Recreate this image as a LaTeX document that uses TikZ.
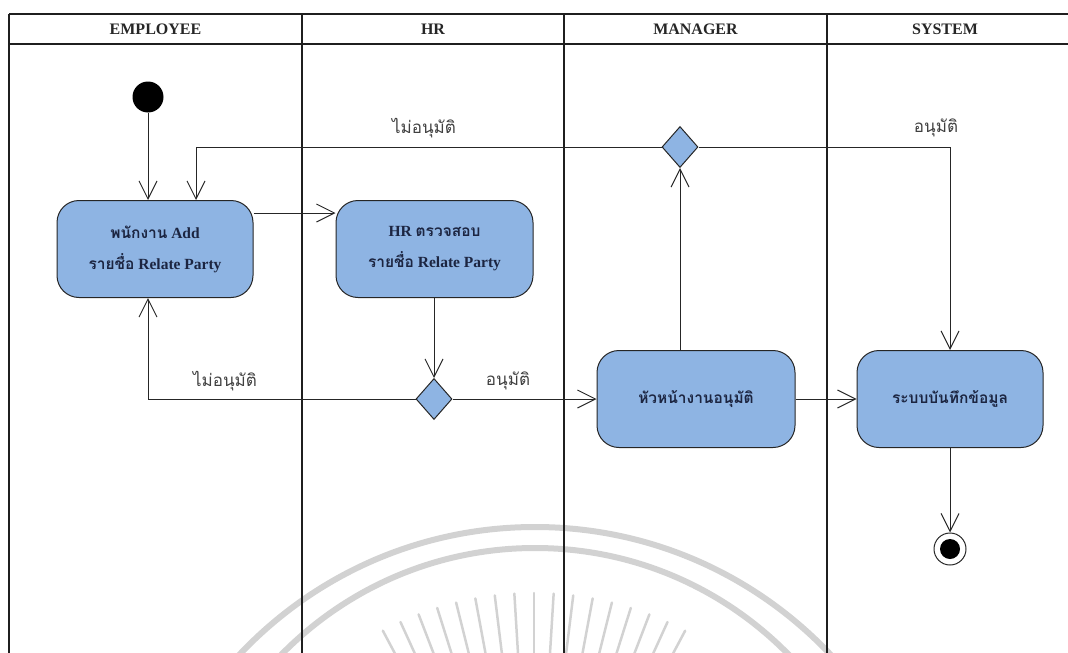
\documentclass[tikz,border=0pt]{standalone}
\usepackage{fontspec}
\setmainfont{Liberation Serif}
\newfontfamily\thai[Script=Thai]{Loma}
\usetikzlibrary{arrows.meta,shapes.geometric}

\definecolor{actfill}{HTML}{8EB4E3}
\definecolor{acttext}{HTML}{1C2541}
\definecolor{sealgray}{HTML}{D2D2D2}

\begin{document}
\begin{tikzpicture}[x=1pt,y=-1pt,
  lane/.style={line width=2pt, draw=black!88},
  lanehead/.style={font=\bfseries\fontsize{16}{18}\selectfont, text=black!85},
  act/.style={draw=black!85, line width=1pt, fill=actfill, rounded corners=22pt,
    minimum height=97pt, align=center, inner sep=0pt, text=acttext,
    font=\bfseries\fontsize{15.5}{31}\selectfont},
  dec/.style={diamond, draw=black!85, line width=1pt, fill=actfill, inner sep=0pt,
    minimum width=36pt, minimum height=41pt},
  startnode/.style={circle, fill=black, inner sep=0pt, minimum size=31pt},
  endring/.style={circle, draw=black!85, line width=1pt, inner sep=0pt, minimum size=32pt},
  flow/.style={draw=black!85, line width=1pt, -{Straight Barb[length=18pt,width=18pt]}},
  guard/.style={font=\thai\fontsize{17}{20}\selectfont, text=black!75},
  seal/.style={draw=sealgray}
]
\useasboundingbox (0,0) rectangle (1068,653);

% faint seal printed behind the chart
\begin{scope}
  \clip (0,0) rectangle (1068,653);
  \draw[seal, line width=6pt] (535,933) circle[radius=406pt];
  \draw[seal, line width=6pt] (535,903) circle[radius=355pt];
  \foreach \a in {62,65.5,...,118.5}
    \draw[seal, line width=2.5pt, line cap=round]
      ({534+230*cos(\a)},{915-230*sin(\a)}) -- ({534+322*cos(\a)},{915-322*sin(\a)});
\end{scope}

% swimlane frame
\begin{scope}
  \clip (0,0) rectangle (1068,653);
  \draw[lane] (9,14) -- (1080,14);
  \draw[lane] (9,44) -- (1080,44);
  \foreach \x in {9,302,564,827,1075}
    \draw[lane] (\x,14) -- (\x,670);
\end{scope}
\node[lanehead] (hEmp) at (155.5,29) {EMPLOYEE};
\node[lanehead] (hHR)  at (433,29)   {HR};
\node[lanehead] (hMgr) at (695.5,29) {MANAGER};
\node[lanehead] (hSys) at (945,29)   {SYSTEM};

% activities
\node[startnode] (start) at (148,97) {};
\node[act, minimum width=196pt] (emp) at (155,249)
  {{\thai พนักงาน} Add\\{\thai รายชื่อ} Relate Party};
\node[act, minimum width=197pt] (hr) at (434.5,249)
  {HR {\thai ตรวจสอบ}\\{\thai รายชื่อ} Relate Party};
\node[dec] (d1) at (434,399) {};
\node[act, minimum width=198pt] (mgr) at (696,399) {\thai หัวหน้างานอนุมัติ};
\node[dec] (d2) at (680,147) {};
\node[act, minimum width=186pt] (sys) at (950,399) {\thai ระบบบันทึกข้อมูล};
\node[endring] (stop) at (950,549) {};
\fill[black] (stop.center) circle[radius=10pt];

% entry points on the first activity
\coordinate (empIn) at (196,200);

% control flow
\draw[flow] (start) -- (start |- emp.north);
\draw[flow] (emp.east |- 0,213) -- (hr.west |- 0,213);
\draw[flow] (hr.south -| d1) -- (d1.north);
\draw[flow] (d1.west) -| (emp.south -| start);
\draw[flow] (d1.east) -- (mgr.west);
\draw[flow] (mgr.north -| d2) -- (d2.south);
\draw[flow] (d2.west) -| (empIn);
\draw[flow] (d2.east) -| (sys.north);
\draw[flow] (mgr.east) -- (sys.west);
\draw[flow] (sys.south) -- (stop.north);

% guard labels
\node[guard] (gNo1)  at (225,381) {ไม่อนุมัติ};
\node[guard] (gYes1) at (508,381) {อนุมัติ};
\node[guard] (gNo2)  at (424,128) {ไม่อนุมัติ};
\node[guard] (gYes2) at (936,128) {อนุมัติ};
\end{tikzpicture}
\end{document}
